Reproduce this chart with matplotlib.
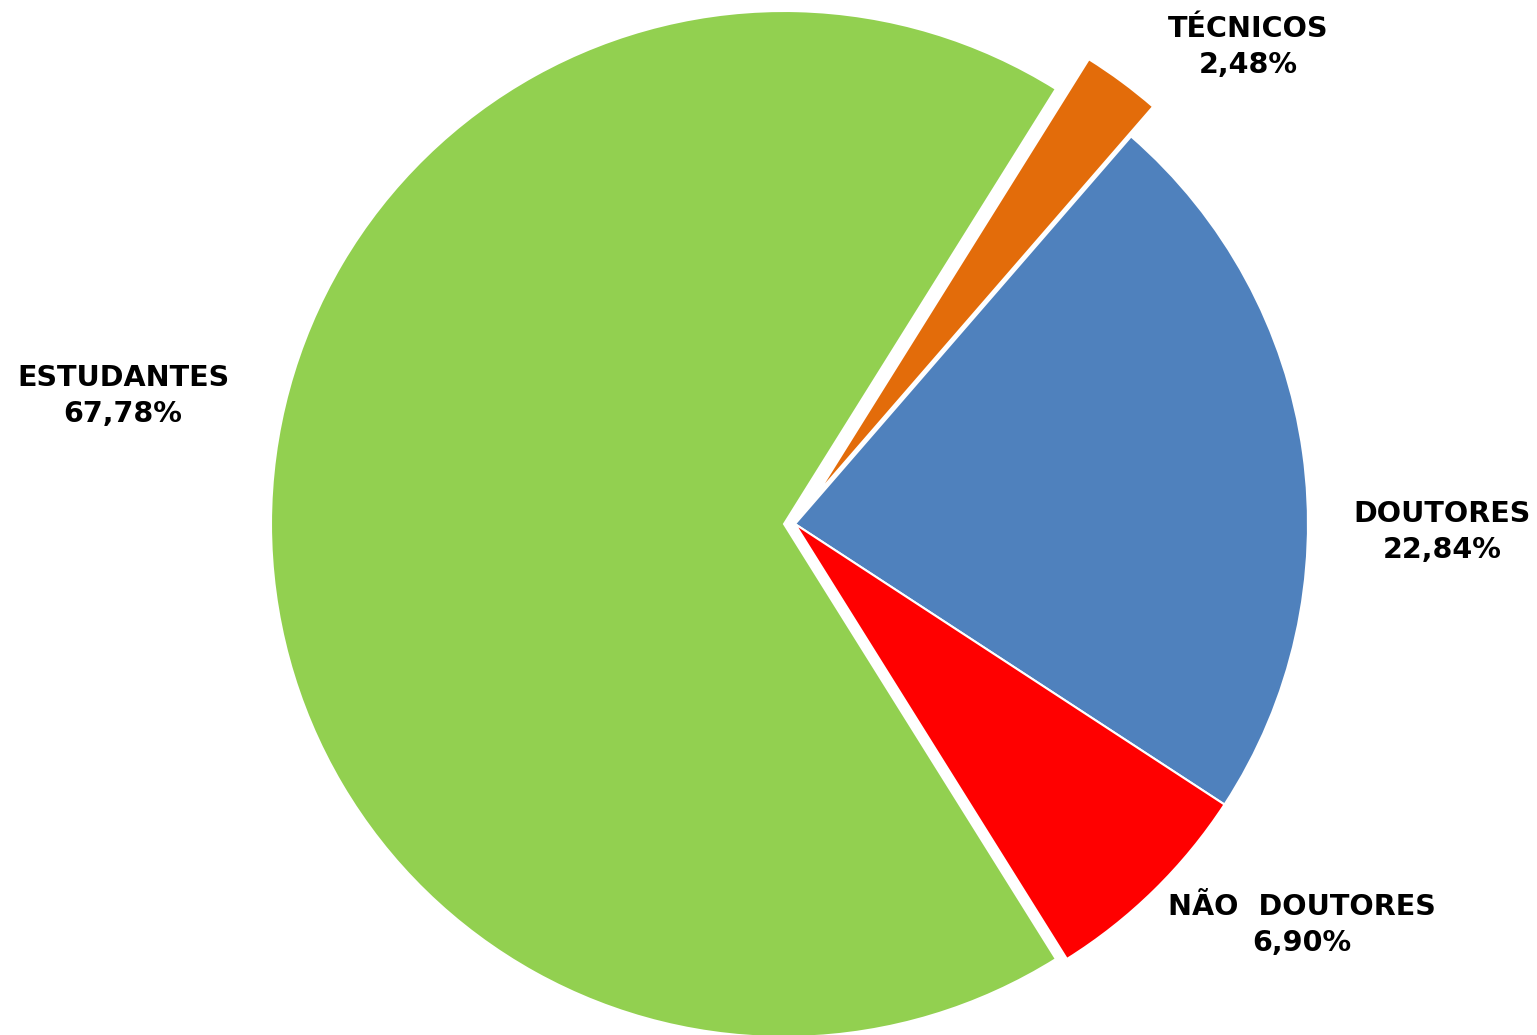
import matplotlib
matplotlib.use("Agg")
import matplotlib.pyplot as plt

# Distribution of participants by category (percent)
categories = ["TÉCNICOS", "DOUTORES", "NÃO  DOUTORES", "ESTUDANTES"]
shares = [2.48, 22.84, 6.90, 67.78]
colors = ["#E36C0A", "#4F81BD", "#FF0000", "#92D050"]

W, H = 1537, 1035
fig = plt.figure(figsize=(W / 100, H / 100), dpi=100)
ax = fig.add_axes([0, 0, 1, 1])

# pie drawn in pixel-sized data units; explode offsets are in the same units
cx, cy, r = 795, H - 524, 513
explode = [37, 0, 0, 11]
ax.pie(shares, colors=colors, explode=explode, startangle=58,
       counterclock=False, center=(cx, cy), radius=r, frame=True,
       wedgeprops=dict(edgecolor="white", linewidth=1.5))
ax.set_xlim(0, W)
ax.set_ylim(0, H)
ax.set_aspect("equal")
ax.axis("off")

label_pos = {
    "TÉCNICOS": (1248, H - 47),
    "DOUTORES": (1442, H - 532),
    "NÃO  DOUTORES": (1302, H - 925),
    "ESTUDANTES": (123, H - 396),
}
for name, val in zip(categories, shares):
    x, y = label_pos[name]
    txt = f"{name}\n{val:.2f}%".replace(".", ",")
    ax.text(x, y, txt, ha="center", va="center", fontsize=20.6,
            fontweight="bold", family="DejaVu Sans", linespacing=1.36,
            multialignment="center")

fig.savefig("out.png", dpi=100)
